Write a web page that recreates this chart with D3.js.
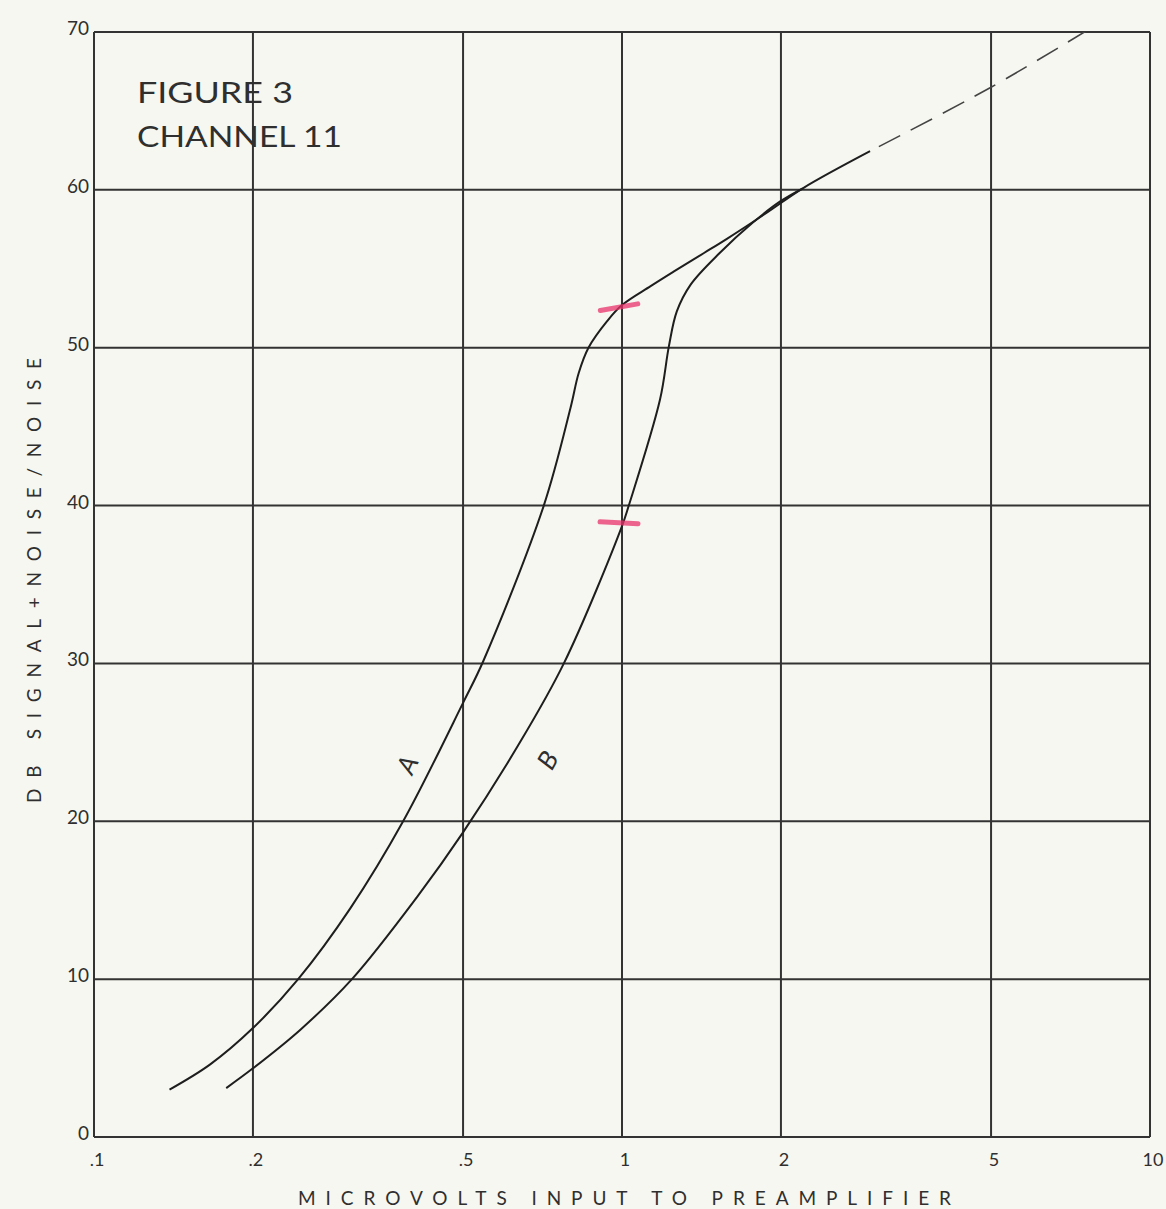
<!DOCTYPE html>
<html>
<head>
<meta charset="utf-8">
<script src="https://cdn.jsdelivr.net/npm/d3@7"></script>
<style>
  html, body { margin: 0; padding: 0; background: #f7f7f1; }
  svg { display: block; }
  text { font-family: "Lato", "DejaVu Sans", sans-serif; fill: #2f2f2f; }
</style>
</head>
<body>
<svg id="chart" width="1166" height="1209"></svg>
<script>
// ---- data ----
const xTicks = [0.1, 0.2, 0.5, 1, 2, 5, 10];
const xTickLabels = [".1", ".2", ".5", "1", "2", "5", "10"];
const yTicks = [0, 10, 20, 30, 40, 50, 60, 70];
const yTickLabels = ["0", "10", "20", "30", "40", "50", "60", "70"];

const curveA_x = [0.139, 0.166, 0.2, 0.2436, 0.306, 0.385, 0.5, 0.547, 0.711, 0.799, 0.828, 0.864, 0.938, 1.0, 1.133, 1.25, 1.43, 1.58, 1.88, 2.2, 2.95];
const curveA_y = [3.0, 4.6, 6.9, 10.0, 14.5, 20.0, 27.5, 30.2, 40.0, 46.2, 48.4, 50.0, 51.7, 52.7, 53.9, 54.8, 56.0, 56.9, 58.55, 60.1, 62.45];

const curveB_x = [0.178, 0.2, 0.246, 0.308, 0.409, 0.5, 0.633, 0.776, 1.0, 1.03, 1.18, 1.227, 1.27, 1.349, 1.531, 1.765, 2.0, 2.2];
const curveB_y = [3.1, 4.35, 6.8, 10.0, 15.2, 19.3, 24.7, 30.0, 38.7, 40.0, 46.7, 50.1, 52.3, 54.0, 56.0, 57.9, 59.3, 60.1];

const dashed_x = [2.95, 5.0, 7.6];
const dashed_y = [62.45, 66.5, 70.1];

const markX = [1.0, 1.0];
const markY = [52.6, 38.9];

const curveLabels = ["A", "B"];
const curveLabelX = [0.391, 0.721];
const curveLabelY = [23.6, 23.9];

const titleLines = ["FIGURE 3", "CHANNEL 11"];
const xAxisTitle = "MICROVOLTS INPUT TO PREAMPLIFIER";
const yAxisTitle = "DB SIGNAL+NOISE/NOISE";

// ---- layout ----
const svg = d3.select("#chart");
const mLeft = 94, mRight = 1150, mTop = 32, mBottom = 1137;

const x = d3.scaleLog().domain([0.1, 10]).range([mLeft, mRight]);
const y = d3.scaleLinear().domain([0, 70]).range([mBottom, mTop]);

const gridColor = "#333";

// grid lines
const g = svg.append("g");
g.selectAll("line.v").data(xTicks).enter().append("line")
  .attr("x1", d => x(d)).attr("x2", d => x(d))
  .attr("y1", y(0)).attr("y2", y(70))
  .attr("stroke", gridColor).attr("stroke-width", 2);
g.selectAll("line.h").data(yTicks).enter().append("line")
  .attr("x1", x(0.1)).attr("x2", x(10))
  .attr("y1", d => y(d)).attr("y2", d => y(d))
  .attr("stroke", gridColor).attr("stroke-width", 2);

// tick labels
svg.append("g").selectAll("text").data(xTicks).enter().append("text")
  .attr("x", d => x(d) + 3).attr("y", y(0) + 29)
  .attr("text-anchor", "middle").attr("font-size", 18)
  .text((d, i) => xTickLabels[i]);
svg.append("g").selectAll("text").data(yTicks).enter().append("text")
  .attr("x", x(0.1) - 5).attr("y", d => y(d) + 3)
  .attr("text-anchor", "end").attr("font-size", 19)
  .text((d, i) => yTickLabels[i]);

// axis titles
svg.append("text")
  .attr("x", 298).attr("y", 1205)
  .attr("font-size", 19)
  .attr("textLength", 653).attr("lengthAdjust", "spacing")
  .text(xAxisTitle);
svg.append("text")
  .attr("transform", "translate(41,803) rotate(-90)")
  .attr("font-size", 19)
  .attr("textLength", 445).attr("lengthAdjust", "spacing")
  .text(yAxisTitle);

// figure title
svg.append("text").attr("x", 137).attr("y", 103).attr("font-size", 28)
  .attr("textLength", 156).attr("lengthAdjust", "spacingAndGlyphs")
  .text(titleLines[0]);
svg.append("text").attr("x", 137).attr("y", 147).attr("font-size", 28)
  .attr("textLength", 205).attr("lengthAdjust", "spacingAndGlyphs")
  .text(titleLines[1]);

// curves
const line = d3.line().x(d => x(d[0])).y(d => y(d[1])).curve(d3.curveCatmullRom.alpha(0.5));
const A = curveA_x.map((v, i) => [v, curveA_y[i]]);
const B = curveB_x.map((v, i) => [v, curveB_y[i]]);
const D = dashed_x.map((v, i) => [v, dashed_y[i]]);

svg.append("clipPath").attr("id", "plotclip").append("rect")
  .attr("x", mLeft).attr("y", mTop).attr("width", mRight - mLeft).attr("height", mBottom - mTop);

const cg = svg.append("g").attr("clip-path", "url(#plotclip)");
cg.append("path").attr("d", line(A)).attr("fill", "none")
  .attr("stroke", "#1e1e1e").attr("stroke-width", 2);
cg.append("path").attr("d", line(B)).attr("fill", "none")
  .attr("stroke", "#1e1e1e").attr("stroke-width", 2);
cg.append("path").attr("d", line(D)).attr("fill", "none")
  .attr("stroke", "#444").attr("stroke-width", 1.6)
  .attr("stroke-dasharray", "24,12").attr("stroke-dashoffset", -10);

// red marks
const markAngle = [-10, 3];
svg.append("g").selectAll("line").data(markX).enter().append("line")
  .attr("x1", -22).attr("x2", 16).attr("y1", 0).attr("y2", 0)
  .attr("transform", (d, i) => `translate(${x(d)},${y(markY[i])}) rotate(${markAngle[i]})`)
  .attr("stroke", "#e8336b").attr("stroke-opacity", 0.75)
  .attr("stroke-width", 5).attr("stroke-linecap", "round");

// curve labels
const labelRot = [-65, -60];
svg.append("g").selectAll("text").data(curveLabels).enter().append("text")
  .attr("transform", (d, i) => `translate(${x(curveLabelX[i])},${y(curveLabelY[i])}) rotate(${labelRot[i]})`)
  .attr("text-anchor", "middle").attr("dominant-baseline", "central")
  .attr("font-size", 26).attr("font-style", "italic")
  .text(d => d);
</script>
</body>
</html>
